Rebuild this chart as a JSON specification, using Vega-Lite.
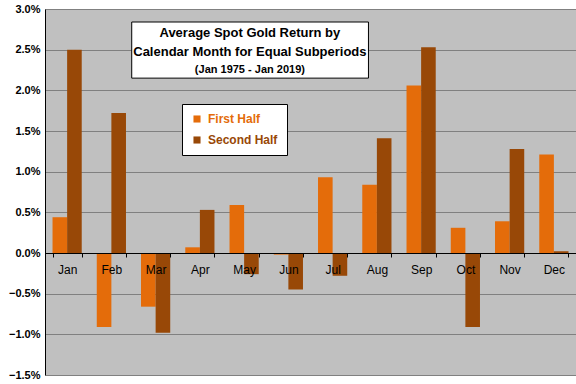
{
  "$schema": "https://vega.github.io/schema/vega-lite/v6.json",
  "width": 531,
  "height": 366,
  "autosize": {"type": "none"},
  "padding": {"left": 45, "top": 9, "right": 0, "bottom": 9},
  "background": "white",
  "config": {
    "font": "Liberation Sans",
    "view": {"fill": "#C0C0C0", "stroke": null}
  },
  "data": {
    "values": [
      {"month": "Jan", "series": "First Half", "value": 0.0044},
      {"month": "Jan", "series": "Second Half", "value": 0.0250},
      {"month": "Feb", "series": "First Half", "value": -0.0091},
      {"month": "Feb", "series": "Second Half", "value": 0.0172},
      {"month": "Mar", "series": "First Half", "value": -0.0066},
      {"month": "Mar", "series": "Second Half", "value": -0.0098},
      {"month": "Apr", "series": "First Half", "value": 0.0007},
      {"month": "Apr", "series": "Second Half", "value": 0.0053},
      {"month": "May", "series": "First Half", "value": 0.0059},
      {"month": "May", "series": "Second Half", "value": -0.0026},
      {"month": "Jun", "series": "First Half", "value": -0.0002},
      {"month": "Jun", "series": "Second Half", "value": -0.0045},
      {"month": "Jul", "series": "First Half", "value": 0.0093},
      {"month": "Jul", "series": "Second Half", "value": -0.0028},
      {"month": "Aug", "series": "First Half", "value": 0.0084},
      {"month": "Aug", "series": "Second Half", "value": 0.0141},
      {"month": "Sep", "series": "First Half", "value": 0.0206},
      {"month": "Sep", "series": "Second Half", "value": 0.0253},
      {"month": "Oct", "series": "First Half", "value": 0.0031},
      {"month": "Oct", "series": "Second Half", "value": -0.0091},
      {"month": "Nov", "series": "First Half", "value": 0.0039},
      {"month": "Nov", "series": "Second Half", "value": 0.0128},
      {"month": "Dec", "series": "First Half", "value": 0.0121},
      {"month": "Dec", "series": "Second Half", "value": 0.0002}
    ]
  },
  "encoding": {
    "y": {
      "type": "quantitative",
      "scale": {"domain": [-0.015, 0.03], "nice": false, "zero": false}
    }
  },
  "layer": [
    {
      "mark": {"type": "bar"},
      "encoding": {
        "x": {
          "field": "month",
          "type": "nominal",
          "sort": ["Jan","Feb","Mar","Apr","May","Jun","Jul","Aug","Sep","Oct","Nov","Dec"],
          "scale": {"paddingInner": 0.34, "paddingOuter": 0.17},
          "axis": {
            "title": null,
            "labelAngle": 0,
            "ticks": true,
            "tickBand": "extent",
            "tickSize": 4,
            "tickColor": "black",
            "domain": true,
            "domainColor": "black",
            "domainWidth": 1,
            "offset": -122,
            "labelPadding": 7,
            "labelFontSize": 12,
            "labelColor": "#000000",
            "grid": false,
            "zindex": 1
          }
        },
        "xOffset": {"field": "series", "type": "nominal", "sort": ["First Half", "Second Half"]},
        "y": {
          "field": "value",
          "type": "quantitative",
          "axis": {
            "title": null,
            "values": [-0.015, -0.01, -0.005, 0, 0.005, 0.01, 0.015, 0.02, 0.025, 0.03],
            "format": ".1%",
            "grid": true,
            "gridColor": "#808080",
            "gridWidth": 1,
            "gridOpacity": 1,
            "ticks": false,
            "domainColor": "black",
            "labelFontWeight": "bold",
            "labelFontSize": 11,
            "labelColor": "#000000",
            "labelPadding": 5
          }
        },
        "color": {
          "field": "series",
          "type": "nominal",
          "scale": {"domain": ["First Half", "Second Half"], "range": ["#E46C0A", "#984807"]},
          "legend": {
            "title": null,
            "orient": "none",
            "legendX": 137,
            "legendY": 95,
            "fillColor": "white",
            "strokeColor": "black",
            "padding": 9,
            "symbolType": "square",
            "symbolSize": 50,
            "symbolStrokeWidth": 0,
            "labelFontSize": 12,
            "labelFontWeight": "bold",
            "labelOffset": 5,
            "rowPadding": 9,
            "encode": {
              "labels": {
                "update": {
                  "fill": {"signal": "datum.label === 'First Half' ? '#E46C0A' : '#984807'"}
                }
              }
            }
          }
        }
      }
    },
    {
      "data": {"values": [{}]},
      "mark": {"type": "rect", "fill": "white", "stroke": "black", "strokeWidth": 1},
      "encoding": {
        "x": {
          "datum": 1.96,
          "type": "quantitative",
          "scale": {"domain": [0, 12], "nice": false, "zero": false},
          "axis": null
        },
        "x2": {"datum": 7.31},
        "y": {"datum": 0.0215},
        "y2": {"datum": 0.0284}
      }
    },
    {
      "data": {"values": [{}]},
      "mark": {"type": "text", "text": "Average Spot Gold Return by", "fontWeight": "bold", "fontSize": 13, "fill": "black", "baseline": "middle"},
      "encoding": {
        "x": {"datum": 4.63, "type": "quantitative", "scale": {"domain": [0, 12], "nice": false, "zero": false}, "axis": null},
        "y": {"datum": 0.02706}
      }
    },
    {
      "data": {"values": [{}]},
      "mark": {"type": "text", "text": "Calendar Month for Equal Subperiods", "fontWeight": "bold", "fontSize": 13, "fill": "black", "baseline": "middle"},
      "encoding": {
        "x": {"datum": 4.63, "type": "quantitative", "scale": {"domain": [0, 12], "nice": false, "zero": false}, "axis": null},
        "y": {"datum": 0.0247}
      }
    },
    {
      "data": {"values": [{}]},
      "mark": {"type": "text", "text": "(Jan 1975 - Jan 2019)", "fontWeight": "bold", "fontSize": 11, "fill": "black", "baseline": "middle"},
      "encoding": {
        "x": {"datum": 4.63, "type": "quantitative", "scale": {"domain": [0, 12], "nice": false, "zero": false}, "axis": null},
        "y": {"datum": 0.0225}
      }
    }
  ],
  "resolve": {"scale": {"x": "independent"}}
}
